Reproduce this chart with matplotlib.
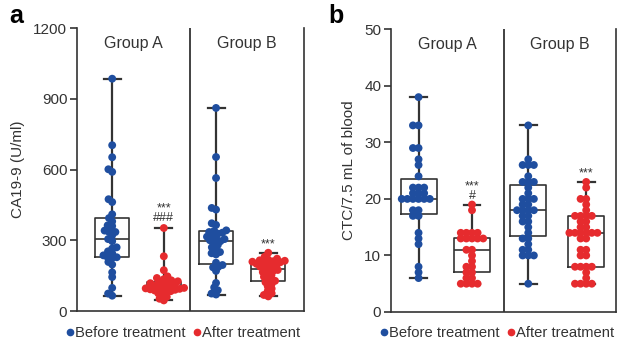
import numpy as np
import matplotlib
matplotlib.use("Agg")
import matplotlib.pyplot as plt
from matplotlib.lines import Line2D

plt.rcParams['font.family'] = ['Liberation Sans', 'DejaVu Sans']

BLUE = "#1f4e9f"
RED = "#e62b2e"
INK = "#333333"

# ---- panel a: CA19-9 (U/ml) ----
ca_a_before = [985, 703, 652, 601, 590, 474, 462, 410, 394, 380, 363, 360, 341, 335, 335,
               321, 305, 296, 270, 265, 253, 245, 236, 228, 228, 225, 208, 197, 164,
               144, 98, 74, 65]
ca_a_after = [352, 232, 173, 147, 140, 135, 130, 126, 122, 120, 118, 115, 112, 108,
              105, 102, 100, 98, 96, 94, 92, 90, 89, 87, 84, 80, 75, 68, 60, 52, 45]
ca_b_before = [861, 653, 564, 437, 430, 372, 365, 342, 340, 335, 332, 328, 320, 315,
               310, 305, 300, 296, 290, 280, 270, 262, 250, 245, 240, 205, 195, 187,
               185, 170, 119, 100, 88, 74, 70]
ca_b_after = [247, 230, 222, 218, 215, 213, 211, 209, 207, 204, 200, 198, 195, 192,
              188, 183, 178, 174, 170, 165, 160, 152, 145, 138, 128, 122, 115, 105,
              95, 85, 75, 68, 62]

# ---- panel b: CTC / 7.5 mL of blood ----
ctc_a_before = [38, 33, 33, 29, 29, 27, 26, 24, 22, 22, 22, 21, 21, 21, 20, 20, 20, 20,
                20, 20, 18, 18, 17, 17, 14, 13, 12, 8, 7, 6]
ctc_a_after = [19, 18, 14, 14, 14, 14, 13, 13, 13, 13, 13, 11, 11, 10, 9, 8, 8, 7, 7,
               6, 6, 5, 5, 5, 5]
ctc_b_before = [33, 27, 26, 26, 26, 24, 23, 23, 23, 22, 21, 20, 20, 20, 19, 19, 18, 18,
                18, 18, 17, 17, 16, 16, 15, 14, 13, 13, 12, 11, 11, 10, 10, 10, 5]
ctc_b_after = [23, 22, 20, 20, 19, 18, 17, 17, 17, 17, 16, 16, 15, 15, 14, 14, 14, 14,
               14, 14, 13, 13, 11, 11, 10, 10, 8, 8, 8, 8, 7, 6, 5, 5, 5, 5]

groups = ["Group A", "Group B"]
legend_labels = ["Before treatment", "After treatment"]


def swarm(vals, center, d, sx, sy):
    # simple beeswarm, d in px; returns x positions in data units
    vals = np.asarray(vals, float)
    out = np.zeros(len(vals))
    placed = []
    for i in np.argsort(vals):
        y = vals[i] * sy
        cands = [0.0]
        for px, py in placed:
            dy = abs(py - y)
            if dy < d:
                dx = np.sqrt(d * d - dy * dy)
                cands += [px + dx, px - dx]
        cands.sort(key=lambda c: (round(abs(c), 6), c))
        for c in cands:
            if all((c - px) ** 2 + (y - py) ** 2 >= d * d - 1e-6 for px, py in placed):
                break
        placed.append((c, y))
        out[i] = center + c / sx
    return out


def panel(ax, series, positions, ymax, yticks, ylabel, box_w, marks, spread):
    ax.set_xlim(0, 4)
    ax.set_ylim(0, ymax)
    bb = ax.get_window_extent()
    sx = bb.width / 4.0
    sy = bb.height / ymax
    colors = [BLUE, RED, BLUE, RED]
    for vals, pos, col in zip(series, positions, colors):
        ax.boxplot([vals], positions=[pos], widths=box_w, whis=(0, 100),
                   showfliers=False, capwidths=0.3, manage_ticks=False,
                   boxprops=dict(color=INK, lw=1.2),
                   medianprops=dict(color=INK, lw=1.2),
                   whiskerprops=dict(color=INK, lw=1.6),
                   capprops=dict(color=INK, lw=1.6), zorder=2)
        xs = swarm(vals, pos, spread, sx, sy)
        ax.scatter(xs, vals, s=32, color=col, edgecolors='none', zorder=3)
    ax.axvline(2, color=INK, lw=1.3)
    for sp in ["left", "bottom", "right"]:
        ax.spines[sp].set_color(INK)
        ax.spines[sp].set_linewidth(1.2)
    ax.spines["top"].set_visible(False)
    ax.set_xticks([])
    ax.set_yticks(yticks)
    ax.tick_params(axis='y', length=5, width=1.2, color=INK, labelsize=11,
                   labelcolor=INK, pad=2)
    ax.set_ylabel(ylabel, fontsize=11, color=INK, labelpad=6)
    for g, xc in zip(groups, [1, 3]):
        ax.text(xc, 0.947, g, transform=ax.get_xaxis_transform(), ha='center',
                va='center', fontsize=11.5, color=INK)
    # significance marks above the top whisker
    for idx, txt, off in marks:
        ax.annotate(txt, xy=(positions[idx], max(series[idx])), xytext=(0, off),
                    textcoords='offset points', ha='center', va='center',
                    fontsize=9, color=INK, linespacing=0.75)


fig = plt.figure(figsize=(6.17, 3.47), dpi=100)
ax1 = fig.add_axes([0.1248, 0.1037, 0.3679, 0.8156])
ax2 = fig.add_axes([0.6337, 0.1009, 0.3647, 0.8147])

panel(ax1, [ca_a_before, ca_a_after, ca_b_before, ca_b_after],
      [0.62, 1.53, 2.45, 3.37], 1200, [0, 300, 600, 900, 1200], "CA19-9 (U/ml)", 0.6,
      [(1, "***\n###", 10.5), (3, "***", 6.0)], 4.6)
panel(ax2, [ctc_a_before, ctc_a_after, ctc_b_before, ctc_b_after],
      [0.49, 1.44, 2.44, 3.47], 50, [0, 10, 20, 30, 40, 50], "CTC/7.5 mL of blood", 0.64,
      [(1, "***\n#", 9.5), (3, "***", 6.0)], 5.6)

fig.text(0.015, 0.955, "a", fontsize=18, fontweight='bold', va='center', color='black')
fig.text(0.532, 0.955, "b", fontsize=18, fontweight='bold', va='center', color='black')

handles = [Line2D([], [], marker='o', ls='', color=BLUE, markersize=4.5),
           Line2D([], [], marker='o', ls='', color=RED, markersize=4.5)]
for xc in [0.297, 0.806]:
    fig.legend(handles, legend_labels, loc='center', bbox_to_anchor=(xc, 0.04), ncol=2,
               frameon=False, fontsize=10.6, handlelength=0.5, handletextpad=0.1,
               columnspacing=0.5, borderpad=0, borderaxespad=0, labelcolor=INK)

fig.savefig("out.png", dpi=100)
